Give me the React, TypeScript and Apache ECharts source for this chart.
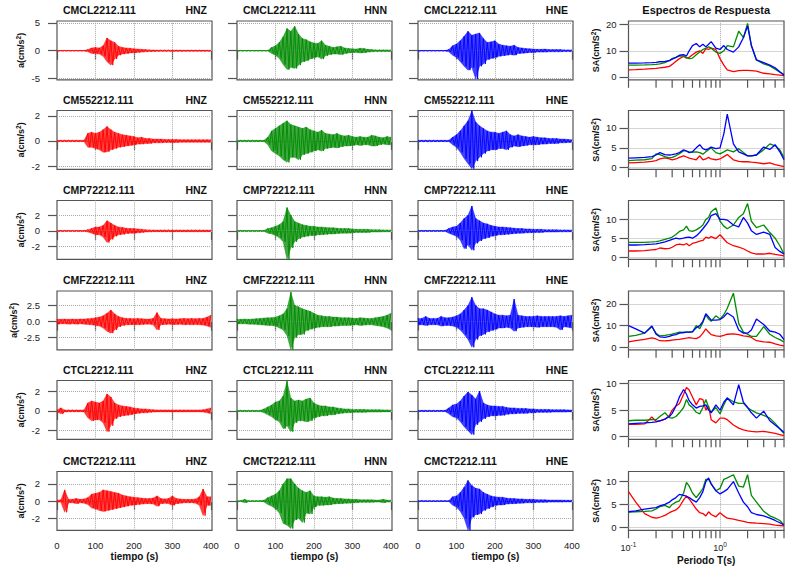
import React, { useEffect, useRef } from 'react';
import * as echarts from 'echarts';

const FONT = '"Liberation Sans", Arial, Helvetica, sans-serif';

// ---------- categories / labels ----------
const stations = ['CMCL2212.111', 'CM552212.111', 'CMP72212.111', 'CMFZ2212.111', 'CTCL2212.111', 'CMCT2212.111'];
const channels = ['HNZ', 'HNN', 'HNE'];
const channelColors = ['#FF0000', '#008B00', '#0000FF'];

// envelope sample times (s)
const times = [0, 10, 20, 30, 40, 50, 60, 70, 80, 90, 100, 110, 120, 130, 140, 150, 160, 170, 180, 190, 200, 210, 220, 230, 240, 250, 260, 270, 280, 290, 300, 310, 320, 330, 340, 350, 360, 370, 380, 390, 400];
const waveXTicks = [0, 100, 200, 300, 400];
const waveXGrid = [100, 200, 300];
const waveYTicks = [[-5, 0, 5], [-2, 0, 2], [-2, 0, 2], [-2.5, 0, 2.5], [-2, 0, 2], [-2, 0, 2]];
const waveYMin = [-5.24, -2.25, -3.66, -4.4, -2.87, -3.4];
const waveYMax = [5.36, 2.42, 3.91, 4.77, 3.07, 3.44];

// ---------- accelerograms: upper (up) and lower (dn) envelope magnitudes, cm/s^2 ----------
const CMCL_Z_up = [0.05, 0.05, 0.05, 0.05, 0.05, 0.05, 0.05, 0.05, 0.2, 0.5, 0.6, 0.5, 0.9, 2.3, 1.8, 1.5, 0.8, 0.6, 0.5, 0.45, 0.35, 0.3, 0.25, 0.2, 0.15, 0.12, 0.1, 0.1, 0.1, 0.1, 0.1, 0.1, 0.1, 0.08, 0.08, 0.08, 0.08, 0.08, 0.08, 0.08, 0.08];
const CMCL_Z_dn = [0.05, 0.05, 0.05, 0.05, 0.05, 0.05, 0.05, 0.05, 0.2, 0.5, 0.5, 0.6, 1.0, 2.0, 2.6, 1.5, 0.8, 0.6, 0.5, 0.4, 0.35, 0.3, 0.25, 0.2, 0.15, 0.12, 0.1, 0.1, 0.1, 0.1, 0.1, 0.1, 0.1, 0.08, 0.08, 0.08, 0.08, 0.08, 0.08, 0.08, 0.08];
const CMCL_N_up = [0.05, 0.05, 0.05, 0.05, 0.05, 0.05, 0.05, 0.05, 0.05, 0.6, 0.9, 1.5, 2.5, 4.0, 3.5, 4.4, 3.0, 2.2, 2.0, 1.6, 1.4, 1.3, 1.8, 1.0, 0.8, 0.6, 0.7, 0.8, 0.5, 0.4, 0.35, 0.3, 0.45, 0.4, 0.25, 0.2, 0.15, 0.15, 0.15, 0.15, 0.15];
const CMCL_N_dn = [0.05, 0.05, 0.05, 0.05, 0.05, 0.05, 0.05, 0.05, 0.05, 0.5, 0.8, 1.4, 2.5, 3.4, 3.0, 3.2, 2.6, 2.0, 1.8, 1.5, 1.2, 1.1, 1.5, 0.9, 0.7, 0.6, 0.6, 0.7, 0.5, 0.4, 0.3, 0.3, 0.4, 0.35, 0.25, 0.2, 0.15, 0.15, 0.15, 0.15, 0.15];
const CMCL_E_up = [0.05, 0.05, 0.05, 0.05, 0.05, 0.05, 0.05, 0.05, 0.2, 0.9, 1.2, 1.8, 2.6, 3.5, 2.8, 3.0, 3.2, 2.2, 1.5, 1.6, 1.8, 1.2, 1.0, 0.9, 0.8, 1.0, 0.6, 0.5, 0.4, 0.35, 0.3, 0.25, 0.25, 0.3, 0.2, 0.2, 0.2, 0.2, 0.15, 0.15, 0.15];
const CMCL_E_dn = [0.05, 0.05, 0.05, 0.05, 0.05, 0.05, 0.05, 0.05, 0.2, 0.8, 1.2, 2.0, 2.8, 3.5, 3.0, 5.1, 2.8, 2.4, 1.6, 1.4, 1.2, 1.0, 0.9, 0.8, 0.7, 0.8, 0.5, 0.45, 0.4, 0.3, 0.3, 0.25, 0.25, 0.25, 0.2, 0.2, 0.2, 0.2, 0.15, 0.15, 0.15];

const CM55_Z_up = [0.05, 0.05, 0.05, 0.05, 0.05, 0.05, 0.05, 0.05, 0.6, 0.7, 0.6, 0.7, 0.9, 1.15, 0.9, 0.7, 0.6, 0.5, 0.45, 0.4, 0.35, 0.25, 0.3, 0.2, 0.2, 0.15, 0.15, 0.15, 0.12, 0.12, 0.12, 0.12, 0.1, 0.1, 0.1, 0.1, 0.1, 0.1, 0.1, 0.1, 0.1];
const CM55_Z_dn = [0.05, 0.05, 0.05, 0.05, 0.05, 0.05, 0.05, 0.05, 0.5, 0.5, 0.6, 0.7, 0.9, 0.85, 0.7, 0.6, 0.5, 0.45, 0.4, 0.35, 0.3, 0.25, 0.25, 0.2, 0.2, 0.15, 0.15, 0.15, 0.12, 0.12, 0.12, 0.12, 0.1, 0.1, 0.1, 0.1, 0.1, 0.1, 0.1, 0.1, 0.1];
const CM55_N_up = [0.05, 0.05, 0.05, 0.05, 0.05, 0.05, 0.05, 0.05, 0.3, 0.8, 1.0, 1.2, 1.4, 1.6, 1.3, 1.2, 1.1, 1.0, 1.1, 0.9, 0.8, 0.7, 0.85, 0.6, 0.55, 0.5, 0.6, 0.45, 0.4, 0.45, 0.35, 0.3, 0.35, 0.3, 0.3, 0.45, 0.4, 0.3, 0.25, 0.35, 0.3];
const CM55_N_dn = [0.05, 0.05, 0.05, 0.05, 0.05, 0.05, 0.05, 0.05, 0.3, 0.8, 1.0, 1.2, 1.5, 1.7, 1.3, 1.3, 1.5, 1.1, 1.0, 0.9, 0.8, 0.7, 0.8, 0.6, 0.55, 0.5, 0.55, 0.45, 0.4, 0.4, 0.35, 0.3, 0.35, 0.3, 0.3, 0.4, 0.4, 0.3, 0.25, 0.3, 0.3];
const CM55_E_up = [0.05, 0.05, 0.05, 0.05, 0.05, 0.05, 0.05, 0.05, 0.05, 0.3, 0.5, 0.8, 1.2, 1.6, 2.4, 1.5, 1.2, 1.0, 0.8, 0.7, 0.7, 0.6, 0.7, 0.8, 0.5, 0.4, 0.5, 0.4, 0.35, 0.3, 0.35, 0.3, 0.25, 0.25, 0.2, 0.2, 0.2, 0.15, 0.15, 0.12, 0.1];
const CM55_E_dn = [0.05, 0.05, 0.05, 0.05, 0.05, 0.05, 0.05, 0.05, 0.05, 0.3, 0.5, 0.9, 1.4, 1.8, 2.2, 1.6, 1.3, 1.0, 0.8, 0.7, 0.7, 0.6, 0.6, 0.7, 0.5, 0.4, 0.45, 0.4, 0.35, 0.3, 0.3, 0.3, 0.25, 0.25, 0.2, 0.2, 0.2, 0.15, 0.15, 0.12, 0.1];

const CMP7_Z_up = [0.05, 0.05, 0.05, 0.05, 0.05, 0.05, 0.05, 0.05, 0.15, 0.3, 0.5, 0.5, 0.7, 1.3, 1.0, 0.7, 0.5, 0.45, 0.35, 0.3, 0.3, 0.25, 0.2, 0.15, 0.12, 0.1, 0.1, 0.1, 0.1, 0.1, 0.1, 0.1, 0.1, 0.1, 0.1, 0.1, 0.1, 0.1, 0.1, 0.1, 0.1];
const CMP7_Z_dn = [0.05, 0.05, 0.05, 0.05, 0.05, 0.05, 0.05, 0.05, 0.15, 0.3, 0.5, 0.5, 0.8, 1.5, 1.1, 0.7, 0.5, 0.45, 0.35, 0.3, 0.3, 0.25, 0.2, 0.15, 0.12, 0.1, 0.1, 0.1, 0.1, 0.1, 0.1, 0.1, 0.1, 0.1, 0.1, 0.1, 0.1, 0.1, 0.1, 0.1, 0.1];
const CMP7_N_up = [0.05, 0.05, 0.05, 0.05, 0.05, 0.05, 0.05, 0.05, 0.3, 0.4, 0.6, 0.8, 1.2, 3.0, 2.0, 1.2, 1.0, 0.8, 0.7, 0.6, 0.6, 0.5, 0.5, 0.45, 0.4, 0.4, 0.35, 0.3, 0.3, 0.3, 0.25, 0.2, 0.2, 0.2, 0.2, 0.15, 0.15, 0.15, 0.12, 0.12, 0.12];
const CMP7_N_dn = [0.05, 0.05, 0.05, 0.05, 0.05, 0.05, 0.05, 0.05, 0.3, 0.4, 0.6, 0.9, 1.4, 3.7, 2.2, 1.4, 1.0, 0.8, 0.7, 0.6, 0.6, 0.5, 0.5, 0.45, 0.4, 0.4, 0.35, 0.3, 0.3, 0.3, 0.25, 0.2, 0.2, 0.2, 0.2, 0.15, 0.15, 0.15, 0.12, 0.12, 0.12];
const CMP7_E_up = [0.05, 0.05, 0.05, 0.05, 0.05, 0.05, 0.05, 0.05, 0.3, 0.5, 0.6, 1.0, 1.6, 2.0, 3.2, 1.6, 1.3, 1.0, 0.9, 0.7, 0.6, 0.5, 0.5, 0.45, 0.4, 0.35, 0.3, 0.3, 0.25, 0.25, 0.2, 0.2, 0.2, 0.15, 0.15, 0.15, 0.15, 0.12, 0.12, 0.12, 0.1];
const CMP7_E_dn = [0.05, 0.05, 0.05, 0.05, 0.05, 0.05, 0.05, 0.05, 0.3, 0.5, 0.7, 1.2, 2.3, 1.8, 2.5, 1.6, 1.3, 1.0, 0.9, 0.7, 0.6, 0.5, 0.5, 0.45, 0.4, 0.35, 0.3, 0.3, 0.25, 0.25, 0.2, 0.2, 0.2, 0.15, 0.15, 0.15, 0.15, 0.12, 0.12, 0.12, 0.1];

const CMFZ_Z_up = [0.4, 0.35, 0.4, 0.35, 0.4, 0.35, 0.4, 0.4, 0.45, 0.5, 0.6, 0.7, 0.9, 1.3, 1.8, 1.2, 0.8, 0.6, 0.5, 0.5, 0.45, 0.5, 0.45, 0.4, 0.4, 0.5, 1.4, 0.5, 0.45, 0.4, 0.45, 0.4, 0.45, 0.5, 0.45, 0.5, 0.45, 0.5, 0.5, 0.7, 1.0];
const CMFZ_Z_dn = [0.4, 0.35, 0.35, 0.4, 0.35, 0.4, 0.35, 0.4, 0.45, 0.5, 0.6, 0.7, 1.0, 1.5, 1.8, 1.3, 0.8, 0.6, 0.5, 0.5, 0.45, 0.5, 0.45, 0.4, 0.4, 0.5, 1.3, 0.5, 0.45, 0.4, 0.45, 0.45, 0.4, 0.5, 0.45, 0.5, 0.45, 0.5, 0.55, 0.7, 0.9];
const CMFZ_N_up = [0.35, 0.35, 0.4, 0.35, 0.4, 0.45, 0.5, 0.55, 0.6, 0.6, 0.7, 0.9, 1.2, 2.0, 4.6, 2.5, 2.3, 2.0, 1.8, 1.6, 1.3, 1.0, 0.9, 0.8, 0.8, 0.7, 0.7, 0.6, 0.6, 0.6, 0.55, 0.5, 0.6, 0.55, 0.5, 0.5, 0.6, 0.7, 0.8, 1.0, 1.3];
const CMFZ_N_dn = [0.35, 0.35, 0.35, 0.4, 0.4, 0.45, 0.5, 0.55, 0.6, 0.6, 0.7, 1.0, 1.3, 2.2, 4.4, 2.5, 2.0, 2.0, 1.4, 1.2, 1.0, 0.9, 0.8, 0.8, 0.8, 0.7, 0.7, 0.6, 0.6, 0.6, 0.55, 0.5, 0.6, 0.55, 0.5, 0.5, 0.6, 0.7, 0.8, 1.0, 1.3];
const CMFZ_E_up = [0.5, 0.5, 0.8, 0.5, 0.5, 0.5, 0.8, 0.6, 0.6, 0.7, 0.9, 1.2, 1.8, 2.5, 3.8, 2.5, 2.0, 2.0, 1.8, 1.5, 1.2, 1.0, 1.0, 0.9, 1.0, 3.5, 1.0, 0.9, 0.8, 0.8, 0.8, 0.9, 0.8, 0.8, 0.8, 0.8, 0.8, 0.9, 0.8, 0.9, 1.0];
const CMFZ_E_dn = [0.5, 0.5, 0.6, 0.5, 0.5, 0.5, 0.7, 0.6, 0.6, 0.7, 0.9, 1.3, 2.0, 2.8, 4.0, 2.8, 2.2, 2.0, 1.6, 1.4, 1.2, 1.0, 1.0, 0.9, 1.0, 1.5, 1.0, 0.9, 0.8, 0.8, 0.8, 0.9, 0.8, 0.8, 0.8, 0.8, 0.9, 1.3, 0.8, 0.9, 1.0];

const CTCL_Z_up = [0.1, 0.3, 0.1, 0.08, 0.08, 0.08, 0.08, 0.1, 0.8, 1.0, 0.9, 0.8, 1.0, 1.7, 1.4, 0.8, 0.6, 0.5, 0.45, 0.4, 0.3, 0.25, 0.2, 0.2, 0.15, 0.12, 0.1, 0.1, 0.1, 0.1, 0.1, 0.1, 0.1, 0.1, 0.1, 0.1, 0.1, 0.1, 0.12, 0.2, 0.3];
const CTCL_Z_dn = [0.1, 0.3, 0.1, 0.08, 0.08, 0.08, 0.08, 0.1, 0.7, 1.0, 0.9, 0.9, 1.2, 2.1, 1.5, 0.8, 0.6, 0.5, 0.45, 0.4, 0.3, 0.25, 0.2, 0.2, 0.15, 0.12, 0.1, 0.1, 0.1, 0.1, 0.1, 0.1, 0.1, 0.1, 0.1, 0.1, 0.1, 0.1, 0.12, 0.2, 0.3];
const CTCL_N_up = [0.05, 0.05, 0.05, 0.05, 0.05, 0.05, 0.05, 0.2, 0.4, 0.6, 0.9, 1.0, 1.5, 3.0, 1.3, 1.0, 1.1, 1.0, 1.2, 1.3, 0.8, 0.6, 0.5, 0.5, 0.4, 0.4, 0.3, 0.25, 0.2, 0.2, 0.15, 0.15, 0.15, 0.15, 0.12, 0.12, 0.12, 0.12, 0.1, 0.1, 0.1];
const CTCL_N_dn = [0.05, 0.05, 0.05, 0.05, 0.05, 0.05, 0.05, 0.2, 0.4, 0.6, 0.9, 1.1, 1.8, 1.5, 2.1, 1.2, 1.0, 1.0, 1.1, 1.0, 0.7, 0.6, 0.5, 0.5, 0.4, 0.4, 0.3, 0.25, 0.2, 0.2, 0.15, 0.15, 0.15, 0.15, 0.12, 0.12, 0.12, 0.12, 0.1, 0.1, 0.1];
const CTCL_E_up = [0.05, 0.05, 0.05, 0.05, 0.05, 0.05, 0.05, 0.05, 0.3, 0.6, 0.7, 1.0, 1.5, 1.9, 1.6, 1.2, 2.0, 0.8, 0.6, 0.5, 0.5, 0.45, 0.45, 0.35, 0.3, 0.3, 0.25, 0.25, 0.25, 0.2, 0.2, 0.15, 0.15, 0.15, 0.15, 0.12, 0.12, 0.12, 0.12, 0.1, 0.1];
const CTCL_E_dn = [0.05, 0.05, 0.05, 0.05, 0.05, 0.05, 0.05, 0.05, 0.3, 0.6, 0.7, 1.1, 1.6, 2.0, 2.4, 1.4, 1.1, 0.8, 0.6, 0.5, 0.5, 0.45, 0.45, 0.35, 0.3, 0.3, 0.25, 0.25, 0.25, 0.2, 0.2, 0.15, 0.15, 0.15, 0.15, 0.12, 0.12, 0.12, 0.12, 0.1, 0.1];

const CMCT_Z_up = [0.1, 0.15, 1.3, 0.2, 0.2, 0.3, 0.2, 0.25, 0.4, 0.8, 0.9, 1.0, 1.3, 1.2, 1.1, 1.0, 0.9, 0.7, 0.6, 0.5, 0.45, 0.4, 0.35, 0.3, 0.3, 0.35, 0.6, 0.3, 0.25, 0.3, 0.6, 0.3, 0.25, 0.2, 0.2, 0.2, 0.25, 0.5, 1.4, 0.5, 0.5];
const CMCT_Z_dn = [0.1, 0.15, 1.3, 0.2, 0.2, 0.3, 0.2, 0.25, 0.4, 0.8, 0.9, 1.1, 1.2, 1.1, 1.0, 0.9, 0.8, 0.7, 0.6, 0.5, 0.45, 0.4, 0.35, 0.3, 0.3, 0.35, 0.6, 0.3, 0.25, 0.3, 0.5, 0.3, 0.25, 0.2, 0.2, 0.2, 0.25, 0.5, 1.7, 0.5, 0.5];
const CMCT_N_up = [0.05, 0.05, 0.2, 0.05, 0.05, 0.05, 0.05, 0.1, 0.4, 0.6, 0.8, 1.2, 2.0, 2.6, 2.6, 2.0, 1.5, 1.2, 1.0, 1.2, 0.6, 0.5, 0.5, 0.45, 0.5, 0.35, 0.3, 0.3, 0.25, 0.25, 0.2, 0.2, 0.15, 0.15, 0.15, 0.15, 0.12, 0.12, 0.2, 0.12, 0.1];
const CMCT_N_dn = [0.05, 0.05, 0.2, 0.05, 0.05, 0.05, 0.05, 0.1, 0.4, 0.6, 0.9, 1.4, 2.6, 2.8, 3.2, 2.2, 2.0, 2.5, 1.4, 1.5, 0.7, 0.5, 0.5, 0.45, 0.45, 0.35, 0.3, 0.3, 0.25, 0.25, 0.2, 0.2, 0.15, 0.15, 0.15, 0.15, 0.12, 0.12, 0.2, 0.12, 0.1];
const CMCT_E_up = [0.05, 0.05, 0.05, 0.05, 0.05, 0.05, 0.05, 0.05, 0.05, 0.5, 0.6, 1.0, 1.6, 2.4, 1.8, 1.5, 1.4, 1.0, 0.8, 0.6, 0.5, 0.45, 0.45, 0.35, 0.3, 0.3, 0.25, 0.25, 0.2, 0.2, 0.2, 0.15, 0.15, 0.15, 0.12, 0.12, 0.12, 0.12, 0.1, 0.1, 0.1];
const CMCT_E_dn = [0.05, 0.05, 0.05, 0.05, 0.05, 0.05, 0.05, 0.05, 0.05, 0.5, 0.7, 1.2, 2.0, 3.4, 1.9, 1.6, 1.5, 1.1, 0.9, 0.7, 0.5, 0.45, 0.45, 0.35, 0.3, 0.3, 0.25, 0.25, 0.2, 0.2, 0.2, 0.15, 0.15, 0.15, 0.12, 0.12, 0.12, 0.12, 0.1, 0.1, 0.1];

// ---------- response spectra ----------
const periods = [0.1, 0.12, 0.15, 0.18, 0.2, 0.22, 0.25, 0.28, 0.3, 0.33, 0.36, 0.4, 0.43, 0.46, 0.5, 0.55, 0.6, 0.65, 0.7, 0.75, 0.8, 0.9, 1.0, 1.1, 1.2, 1.4, 1.6, 1.8, 2.0, 2.2, 2.5, 3.0, 3.5, 4.0, 4.5, 5.0];
const periodTicks = [0.1, 0.2, 0.3, 0.4, 0.5, 0.6, 0.7, 0.8, 0.9, 1, 2, 3, 4, 5];
const specYTicks = [[0, 10, 20], [0, 5, 10], [0, 5, 10], [0, 10, 20], [0, 5, 10], [0, 5, 10]];
const specYMin = [-1.1, -0.4, -0.6, -1.2, -0.5, -0.65];
const specYMax = [21.4, 14.4, 15, 26, 10.6, 12.2];

const SA_CMCL_Z = [2.7, 2.8, 3.0, 3.2, 3.3, 3.5, 3.7, 4.0, 4.8, 6.0, 7.0, 7.8, 7.2, 7.5, 8.5, 9.5, 10.0, 9.0, 10.8, 10.5, 11.0, 10.5, 7.0, 4.5, 2.7, 2.0, 2.4, 2.5, 2.5, 2.4, 2.2, 1.4, 1.2, 0.9, 0.7, 0.5];
const SA_CMCL_N = [4.5, 4.5, 4.6, 4.7, 4.8, 5.0, 5.5, 6.3, 7.0, 7.5, 8.0, 8.0, 7.5, 7.0, 7.2, 8.5, 9.5, 10.5, 11.0, 11.5, 11.0, 9.5, 9.0, 10.0, 12.0, 11.5, 17.5, 15.0, 20.5, 12.0, 6.5, 5.0, 4.2, 3.0, 1.8, 1.0];
const SA_CMCL_E = [5.3, 5.3, 5.4, 5.5, 5.6, 5.8, 5.9, 6.2, 6.8, 7.5, 8.3, 8.5, 8.0, 10.0, 12.0, 12.8, 11.5, 12.5, 11.5, 12.5, 13.5, 11.0, 10.5, 12.0, 10.5, 9.5, 11.5, 15.0, 19.5, 12.0, 6.5, 5.5, 4.5, 3.5, 2.0, 0.6];

const SA_CM55_Z = [1.2, 1.3, 1.4, 1.6, 1.8, 2.2, 2.5, 2.2, 2.0, 2.2, 2.6, 3.0, 2.7, 2.4, 2.2, 2.0, 3.0, 2.0, 2.2, 2.6, 2.2, 2.0, 2.2, 2.8, 3.3, 2.0, 1.6, 1.5, 1.5, 1.4, 1.3, 1.0, 1.2, 0.8, 0.5, 0.3];
const SA_CM55_N = [1.8, 1.9, 2.0, 2.3, 3.5, 3.3, 2.8, 2.5, 2.6, 3.0, 3.5, 4.3, 4.2, 4.0, 3.9, 4.0, 3.8, 3.4, 4.0, 4.5, 5.0, 3.8, 3.5, 4.0, 4.5, 4.0, 4.8, 3.8, 3.0, 3.0, 3.2, 4.5, 6.0, 5.5, 4.5, 2.5];
const SA_CM55_E = [2.4, 2.5, 2.6, 2.8, 3.2, 3.8, 3.3, 3.2, 3.3, 3.5, 3.8, 4.5, 4.2, 3.8, 4.0, 5.0, 5.8, 4.8, 4.5, 4.8, 5.2, 4.8, 5.0, 8.5, 13.5, 6.0, 4.0, 3.5, 3.0, 3.0, 3.2, 5.2, 4.6, 5.8, 4.0, 2.0];

const SA_CMP7_Z = [1.6, 1.6, 1.7, 1.9, 2.0, 2.4, 2.2, 2.3, 2.6, 3.2, 3.4, 3.2, 3.6, 3.0, 3.6, 3.9, 4.2, 4.4, 5.3, 5.0, 5.4, 4.9, 5.9, 4.8, 3.8, 3.0, 2.6, 2.2, 1.6, 1.1, 0.8, 0.8, 1.0, 0.7, 0.5, 0.3];
const SA_CMP7_N = [3.9, 3.9, 3.9, 4.0, 4.1, 4.3, 4.7, 5.0, 5.3, 6.0, 6.8, 7.2, 8.2, 7.0, 6.8, 7.2, 7.8, 8.5, 10.0, 10.5, 12.0, 13.0, 9.5, 8.2, 7.5, 8.5, 10.5, 11.5, 14.2, 9.5, 7.8, 8.5, 6.5, 5.0, 3.0, 0.8];
const SA_CMP7_E = [3.2, 3.2, 3.3, 3.4, 3.5, 3.7, 4.0, 4.4, 4.7, 5.0, 4.8, 5.0, 5.2, 5.3, 5.0, 5.6, 6.5, 7.5, 8.5, 9.5, 11.0, 11.5, 10.0, 10.0, 9.8, 8.5, 8.0, 10.5, 9.0, 7.0, 6.0, 6.6, 6.0, 2.5, 1.5, 0.8];

const SA_CMFZ_Z = [2.5, 3.0, 3.6, 4.3, 3.8, 3.0, 2.9, 3.1, 3.3, 3.5, 3.6, 4.0, 4.2, 4.4, 4.2, 4.0, 4.8, 6.5, 8.5, 7.0, 5.8, 5.2, 5.0, 5.5, 6.0, 6.2, 5.8, 5.2, 5.0, 4.5, 3.0, 2.5, 2.3, 1.5, 1.0, 0.6];
const SA_CMFZ_N = [5.0, 5.5, 6.5, 9.5, 6.5, 5.2, 5.5, 5.8, 6.0, 6.5, 7.0, 6.8, 7.0, 7.0, 7.0, 10.0, 8.5, 11.5, 15.0, 13.0, 12.0, 14.5, 13.0, 15.0, 18.0, 25.0, 11.0, 7.0, 6.0, 5.0, 5.0, 9.5, 6.0, 4.5, 3.5, 2.5];
const SA_CMFZ_E = [10.0, 8.5, 6.5, 9.8, 6.0, 4.8, 4.5, 5.0, 5.5, 5.8, 6.5, 6.8, 7.0, 7.0, 7.2, 9.0, 10.0, 12.0, 15.5, 14.0, 12.5, 12.5, 12.8, 14.0, 15.8, 14.0, 8.0, 6.5, 6.5, 8.0, 13.0, 10.5, 7.5, 7.0, 6.0, 3.5];

const SA_CTCL_Z = [2.3, 2.3, 2.4, 3.7, 2.9, 3.0, 3.3, 4.0, 5.0, 5.8, 6.2, 8.0, 9.3, 8.8, 7.5, 6.0, 7.2, 7.0, 5.0, 5.8, 3.2, 2.6, 3.5, 3.5, 3.2, 2.2, 1.6, 1.3, 1.1, 1.0, 0.9, 1.0, 0.8, 0.6, 0.4, 0.2];
const SA_CTCL_N = [3.0, 3.1, 3.1, 3.2, 3.2, 3.8, 4.5, 3.6, 3.5, 3.8, 4.5, 5.5, 7.0, 6.0, 5.5, 4.6, 4.3, 5.5, 7.0, 5.5, 4.6, 5.5, 4.3, 6.0, 7.3, 6.6, 6.3, 6.3, 5.5, 5.0, 4.5, 4.0, 3.5, 2.5, 1.5, 0.6];
const SA_CTCL_E = [2.4, 2.5, 2.6, 2.7, 2.8, 3.0, 3.3, 3.8, 4.4, 5.8, 7.5, 8.9, 8.0, 6.8, 6.0, 5.4, 5.7, 5.8, 6.0, 5.0, 4.5, 6.0, 5.0, 6.5, 7.3, 6.0, 9.8, 6.5, 5.5, 4.5, 3.5, 4.8, 3.0, 2.2, 1.5, 0.8];

const SA_CMCT_Z = [7.8, 5.5, 3.0, 2.2, 2.0, 2.2, 2.6, 3.2, 3.5, 3.8, 4.5, 6.0, 6.8, 6.2, 5.2, 4.0, 3.2, 3.0, 2.5, 3.4, 2.8, 2.3, 3.2, 2.5, 2.0, 1.8, 1.5, 1.3, 1.1, 1.0, 0.9, 0.8, 0.7, 0.5, 0.4, 0.3];
const SA_CMCT_N = [3.3, 3.4, 3.5, 3.6, 4.0, 4.5, 4.8, 4.3, 5.0, 5.5, 5.8, 7.5, 9.8, 9.0, 7.5, 6.5, 7.5, 8.5, 10.5, 10.5, 9.5, 8.0, 8.5, 10.5, 10.8, 11.5, 9.0, 8.8, 11.5, 7.0, 5.5, 3.5, 2.5, 2.0, 1.5, 0.5];
const SA_CMCT_E = [3.4, 3.6, 4.0, 4.2, 4.3, 4.7, 5.0, 5.5, 6.0, 6.5, 7.2, 7.0, 6.8, 6.5, 6.0, 5.5, 6.5, 7.8, 10.0, 10.8, 9.5, 8.0, 7.3, 7.8, 8.3, 10.0, 7.5, 5.5, 4.5, 3.2, 2.8, 2.5, 2.0, 1.5, 1.0, 0.5];

// tables built from the named arrays
const waveUp = [
  [CMCL_Z_up, CMCL_N_up, CMCL_E_up], [CM55_Z_up, CM55_N_up, CM55_E_up], [CMP7_Z_up, CMP7_N_up, CMP7_E_up],
  [CMFZ_Z_up, CMFZ_N_up, CMFZ_E_up], [CTCL_Z_up, CTCL_N_up, CTCL_E_up], [CMCT_Z_up, CMCT_N_up, CMCT_E_up],
];
const waveDn = [
  [CMCL_Z_dn, CMCL_N_dn, CMCL_E_dn], [CM55_Z_dn, CM55_N_dn, CM55_E_dn], [CMP7_Z_dn, CMP7_N_dn, CMP7_E_dn],
  [CMFZ_Z_dn, CMFZ_N_dn, CMFZ_E_dn], [CTCL_Z_dn, CTCL_N_dn, CTCL_E_dn], [CMCT_Z_dn, CMCT_N_dn, CMCT_E_dn],
];
const spectra = [
  [SA_CMCL_Z, SA_CMCL_N, SA_CMCL_E], [SA_CM55_Z, SA_CM55_N, SA_CM55_E], [SA_CMP7_Z, SA_CMP7_N, SA_CMP7_E],
  [SA_CMFZ_Z, SA_CMFZ_N, SA_CMFZ_E], [SA_CTCL_Z, SA_CTCL_N, SA_CTCL_E], [SA_CMCT_Z, SA_CMCT_N, SA_CMCT_E],
];

// ---------- layout ----------
const WAVE_LEFT = [57, 237, 418];
const WAVE_W = 155;
const SPEC_LEFT = 628.5;
const SPEC_W = 155.5;
const ROW_TOP = [21, 110.5, 200.5, 291, 380.5, 471.5];
const BOX_H = 58.8;
const BORDER = '#555';

function zigzag(up: number[], dn: number[]) {
  const pts: number[][] = [];
  up.forEach((u, i) => {
    pts.push([times[i], u]);
    if (i < up.length - 1) pts.push([times[i] + 5, -dn[i]]);
  });
  return pts;
}

function buildOption() {
  const grid: any[] = [];
  const xAxis: any[] = [];
  const yAxis: any[] = [];
  const series: any[] = [];
  const graphic: any[] = [];
  const gridLine = { type: 'dotted', color: '#aaa', width: 1 };
  const tickStyle = { color: BORDER, width: 1.2 };
  const supRich = { sup: { fontSize: 6.5, fontWeight: 'bold', verticalAlign: 'top', lineHeight: 8, fontFamily: FONT } };

  for (let r = 0; r < 6; r++) {
    const last = r === 5;
    for (let c = 0; c < 3; c++) {
      const gi = grid.length;
      const color = channelColors[c];
      grid.push({ left: WAVE_LEFT[c], top: ROW_TOP[r], width: WAVE_W, height: BOX_H, show: true, borderColor: BORDER, borderWidth: 1.2, backgroundColor: 'transparent' });
      xAxis.push({
        gridIndex: gi, type: 'value', min: 0, max: 403,
        axisLine: { show: false },
        axisTick: { show: true, customValues: waveXTicks, length: 9, lineStyle: tickStyle },
        axisLabel: { show: last, customValues: waveXTicks, fontSize: 9.5, color: '#222', margin: 10, fontFamily: FONT },
        splitLine: { show: false },
        name: last ? 'tiempo (s)' : '', nameLocation: 'middle', nameGap: 21.5,
        nameTextStyle: { fontSize: 10, fontWeight: 'bold', color: '#111', fontFamily: FONT },
      });
      yAxis.push({
        gridIndex: gi, type: 'value', min: waveYMin[r], max: waveYMax[r],
        axisLine: { show: false },
        axisTick: { show: true, customValues: waveYTicks[r], length: 9, lineStyle: tickStyle },
        axisLabel: {
          show: c === 0, customValues: waveYTicks[r], fontSize: 9.5, color: '#222', margin: 17, fontFamily: FONT,
          formatter: (v: number) => (r === 3 ? v.toFixed(1) : String(v)),
        },
        splitLine: { show: false },
        name: c === 0 ? 'a(cm/s{sup|2})' : '', nameLocation: 'middle', nameGap: 30,
        nameTextStyle: { fontSize: 9, fontWeight: 'bold', color: '#111', lineHeight: 12, fontFamily: FONT, rich: supRich },
      });
      const up = waveUp[r][c];
      const dn = waveDn[r][c];
      // envelope bands (upper and lower), filled toward zero
      series.push({
        type: 'line', xAxisIndex: gi, yAxisIndex: gi,
        data: up.map((u, i) => [times[i], u]),
        symbol: 'none', showSymbol: false, silent: true, z: 2,
        lineStyle: { color, width: 0.5, opacity: 0.7 },
        areaStyle: { color, opacity: 0.75, origin: 0 },
        emphasis: { disabled: true },
        markLine: {
          silent: true, z: 1, symbol: ['none', 'none'], label: { show: false }, animation: false,
          emphasis: { disabled: true }, lineStyle: gridLine,
          data: [...waveYTicks[r].map((v) => ({ yAxis: v })), ...waveXGrid.map((v) => ({ xAxis: v }))],
        },
      });
      series.push({
        type: 'line', xAxisIndex: gi, yAxisIndex: gi,
        data: dn.map((d, i) => [times[i], -d]),
        symbol: 'none', showSymbol: false, silent: true, z: 2,
        lineStyle: { color, width: 0.5, opacity: 0.7 },
        areaStyle: { color, opacity: 0.75, origin: 0 },
        emphasis: { disabled: true },
      });
      // oscillating trace
      series.push({
        type: 'line', xAxisIndex: gi, yAxisIndex: gi,
        data: zigzag(up, dn),
        symbol: 'none', showSymbol: false, silent: true, z: 3,
        lineStyle: { color, width: 0.9 },
        emphasis: { disabled: true },
      });
      graphic.push({
        type: 'text', x: WAVE_LEFT[c] + 6, y: ROW_TOP[r] - 10.8, silent: true,
        style: { text: stations[r], fontSize: 10.5, fontWeight: 'bold', fontFamily: FONT, fill: '#111', align: 'left', verticalAlign: 'middle' },
      });
      graphic.push({
        type: 'text', x: WAVE_LEFT[c] + WAVE_W - 5, y: ROW_TOP[r] - 10.8, silent: true,
        style: { text: channels[c], fontSize: 10.5, fontWeight: 'bold', fontFamily: FONT, fill: '#111', align: 'right', verticalAlign: 'middle' },
      });
    }

    // response spectra panel
    const gi = grid.length;
    grid.push({ left: SPEC_LEFT, top: ROW_TOP[r], width: SPEC_W, height: BOX_H, show: true, borderColor: BORDER, borderWidth: 1.2, backgroundColor: 'transparent' });
    xAxis.push({
      gridIndex: gi, type: 'log', logBase: 10, min: 0.1, max: 5,
      axisLine: { show: false }, axisTick: { show: false }, splitLine: { show: false }, minorTick: { show: false },
      axisLabel: {
        show: last, fontSize: 9, color: '#222', margin: 11, fontFamily: FONT,
        formatter: (v: number) => (Math.abs(v - 0.1) < 1e-6 ? '{b|10}{s|-1}' : Math.abs(v - 1) < 1e-6 ? '{b|10}{s|0}' : ''),
        rich: {
          b: { fontSize: 9, color: '#222', lineHeight: 13, fontFamily: FONT },
          s: { fontSize: 6.5, color: '#222', lineHeight: 7, verticalAlign: 'top', fontFamily: FONT },
        },
      },
      name: last ? 'Periodo T(s)' : '', nameLocation: 'middle', nameGap: 25,
      nameTextStyle: { fontSize: 10, fontWeight: 'bold', color: '#111', fontFamily: FONT },
    });
    yAxis.push({
      gridIndex: gi, type: 'value', min: specYMin[r], max: specYMax[r],
      axisLine: { show: false },
      axisTick: { show: true, customValues: specYTicks[r], length: 9, lineStyle: tickStyle },
      axisLabel: { show: true, customValues: specYTicks[r], fontSize: 9.5, color: '#222', margin: 12, fontFamily: FONT },
      splitLine: { show: false },
      name: 'SA(cm/S{sup|2})', nameLocation: 'middle', nameGap: 27,
      nameTextStyle: { fontSize: 9, fontWeight: 'bold', color: '#111', lineHeight: 12, fontFamily: FONT, rich: supRich },
    });
    for (let c = 0; c < 3; c++) {
      series.push({
        type: 'line', xAxisIndex: gi, yAxisIndex: gi,
        data: periods.map((p, i) => [p, spectra[r][c][i]]),
        symbol: 'none', showSymbol: false, silent: true, z: 3,
        lineStyle: { color: channelColors[c], width: 1.3 },
        emphasis: { disabled: true },
        markLine: c === 0 ? {
          silent: true, z: 1, symbol: ['none', 'none'], label: { show: false }, animation: false,
          emphasis: { disabled: true }, lineStyle: gridLine,
          data: [...specYTicks[r].map((v) => ({ yAxis: v })), { xAxis: 1 }],
        } : undefined,
      });
    }
    // period tick marks below the panel, placed through the log axis
    const yBottom = specYMin[r];
    series.push({
      type: 'custom', xAxisIndex: gi, yAxisIndex: gi, silent: true, z: 4, clip: false,
      data: periodTicks.map((p) => [p, yBottom]),
      renderItem: (_params: any, api: any) => {
        const pt = api.coord([api.value(0), api.value(1)]);
        return { type: 'line', shape: { x1: pt[0], y1: pt[1], x2: pt[0], y2: pt[1] + 8 }, style: { stroke: BORDER, lineWidth: 1.2 } };
      },
    });
  }

  graphic.push({
    type: 'text', x: SPEC_LEFT + SPEC_W / 2, y: 10, silent: true,
    style: { text: 'Espectros de Respuesta', fontSize: 11, fontWeight: 'bold', fontFamily: FONT, fill: '#111', align: 'center', verticalAlign: 'middle' },
  });

  return { animation: false, backgroundColor: '#fff', grid, xAxis, yAxis, series, graphic };
}

export default function App() {
  const ref = useRef<HTMLDivElement>(null);
  useEffect(() => {
    if (!ref.current) return;
    const chart = echarts.init(ref.current, null, { renderer: 'svg' });
    chart.setOption(buildOption() as any);
    return () => chart.dispose();
  }, []);
  return <div ref={ref} style={{ position: 'absolute', left: 0, top: 0, width: 800, height: 567 }} />;
}
